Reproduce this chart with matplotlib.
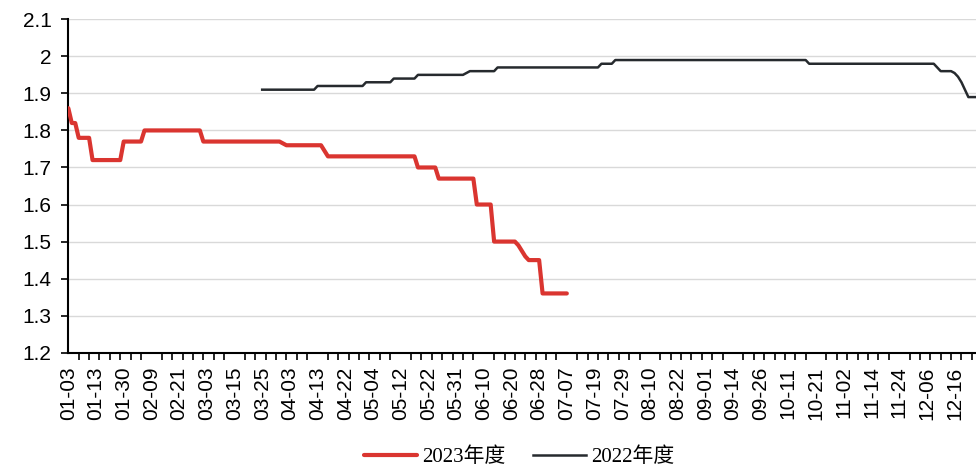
"""
This file draws the 2023 vs 2022 line chart.
"""

import numpy as np
import matplotlib
matplotlib.use("Agg")
import matplotlib.pyplot as plt

"""Tick labels on the category axis, one every 8 points."""
X_LABELS = ["01-03", "01-13", "01-30", "02-09", "02-21", "03-03", "03-15",
            "03-25", "04-03", "04-13", "04-22", "05-04", "05-12", "05-22",
            "05-31", "06-10", "06-20", "06-28", "07-07", "07-19", "07-29",
            "08-10", "08-22", "09-01", "09-14", "09-26", "10-11", "10-21",
            "11-02", "11-14", "11-24", "12-06", "12-16"]
NUM_POINTS = 263
LABEL_STEP = 8
TICK_STEP = 3

Y_TICKS = [1.2, 1.3, 1.4, 1.5, 1.6, 1.7, 1.8, 1.9, 2.0, 2.1]
Y_LABELS = ["1.2", "1.3", "1.4", "1.5", "1.6", "1.7", "1.8", "1.9", "2", "2.1"]

"""2023 series, stored as levels and how many points each level lasts."""
LEVELS_2023 = [1.86, 1.82, 1.78, 1.72, 1.77, 1.80, 1.77, 1.765, 1.76, 1.745,
               1.73, 1.70, 1.67, 1.60, 1.50, 1.49, 1.475, 1.46, 1.45, 1.36]
COUNTS_2023 = [1, 2, 4, 9, 6, 17, 23, 1, 11, 1,
               26, 6, 11, 5, 7, 1, 1, 1, 4, 8]
START_2023 = 0

"""2022 series, same layout."""
LEVELS_2022 = [1.91, 1.92, 1.93, 1.94, 1.95, 1.955, 1.96, 1.97, 1.98, 1.99,
               1.98, 1.97, 1.96, 1.955, 1.945, 1.93, 1.91, 1.89]
COUNTS_2022 = [16, 14, 8, 7, 14, 1, 8, 30, 4, 56,
               37, 1, 4, 1, 1, 1, 1, 3]
START_2022 = 56

RED = "#DA3530"
DARK = "#262A2E"
FONT_SIZE = 15


def expand(levels, counts, start):
    """Turn levels/counts into x positions and y values."""
    y = np.repeat(levels, counts)
    x = np.arange(start, start + len(y))
    return x, y


def main():
    fig = plt.figure(figsize=(9.76, 4.66), dpi=100)
    ax = fig.add_axes([0.07, 0.2431, 0.93, 0.7155])

    x23, y23 = expand(LEVELS_2023, COUNTS_2023, START_2023)
    x22, y22 = expand(LEVELS_2022, COUNTS_2022, START_2022)

    ax.plot(x23, y23, color=RED, linewidth=3.0, solid_capstyle="round",
            solid_joinstyle="round", label="2023年度", zorder=3)
    ax.plot(x22, y22, color=DARK, linewidth=1.8, solid_joinstyle="round",
            label="2022年度", zorder=3)

    """Axes limits and grid."""
    ax.set_xlim(0, NUM_POINTS - 0.8)
    ax.set_ylim(1.2, 2.1)
    ax.set_yticks(Y_TICKS)
    ax.set_yticklabels(Y_LABELS, fontfamily="Liberation Sans",
                       fontsize=FONT_SIZE)
    ax.yaxis.grid(True, color="#D9D9D9", linewidth=1.0)
    ax.set_axisbelow(True)

    """Category ticks: marks every 3 points, labels every 8."""
    ax.set_xticks(np.arange(0, NUM_POINTS, TICK_STEP), minor=True)
    ax.set_xticks(np.arange(0, len(X_LABELS) * LABEL_STEP, LABEL_STEP))
    ax.set_xticklabels(X_LABELS, rotation=90, fontfamily="Liberation Sans",
                       fontsize=FONT_SIZE)
    ax.tick_params(axis="x", which="major", length=0, pad=10)
    ax.tick_params(axis="x", which="minor", length=5, width=1.2,
                   direction="out", color="black")
    ax.tick_params(axis="y", length=5, width=1.2, direction="out",
                   color="black", pad=7)

    for side in ["top", "right"]:
        ax.spines[side].set_visible(False)
    for side in ["left", "bottom"]:
        ax.spines[side].set_linewidth(1.5)
        ax.spines[side].set_color("black")

    """Legend at the bottom."""
    fig.legend(loc="lower center", bbox_to_anchor=(0.532, -0.042), ncol=2,
               frameon=False, handlelength=2.55, handletextpad=0.25,
               columnspacing=1.3,
               prop={"family": ["Liberation Serif", "Noto Sans CJK SC"],
                     "size": FONT_SIZE})

    fig.savefig("out.png", dpi=100)


if __name__ == "__main__":
    main()
